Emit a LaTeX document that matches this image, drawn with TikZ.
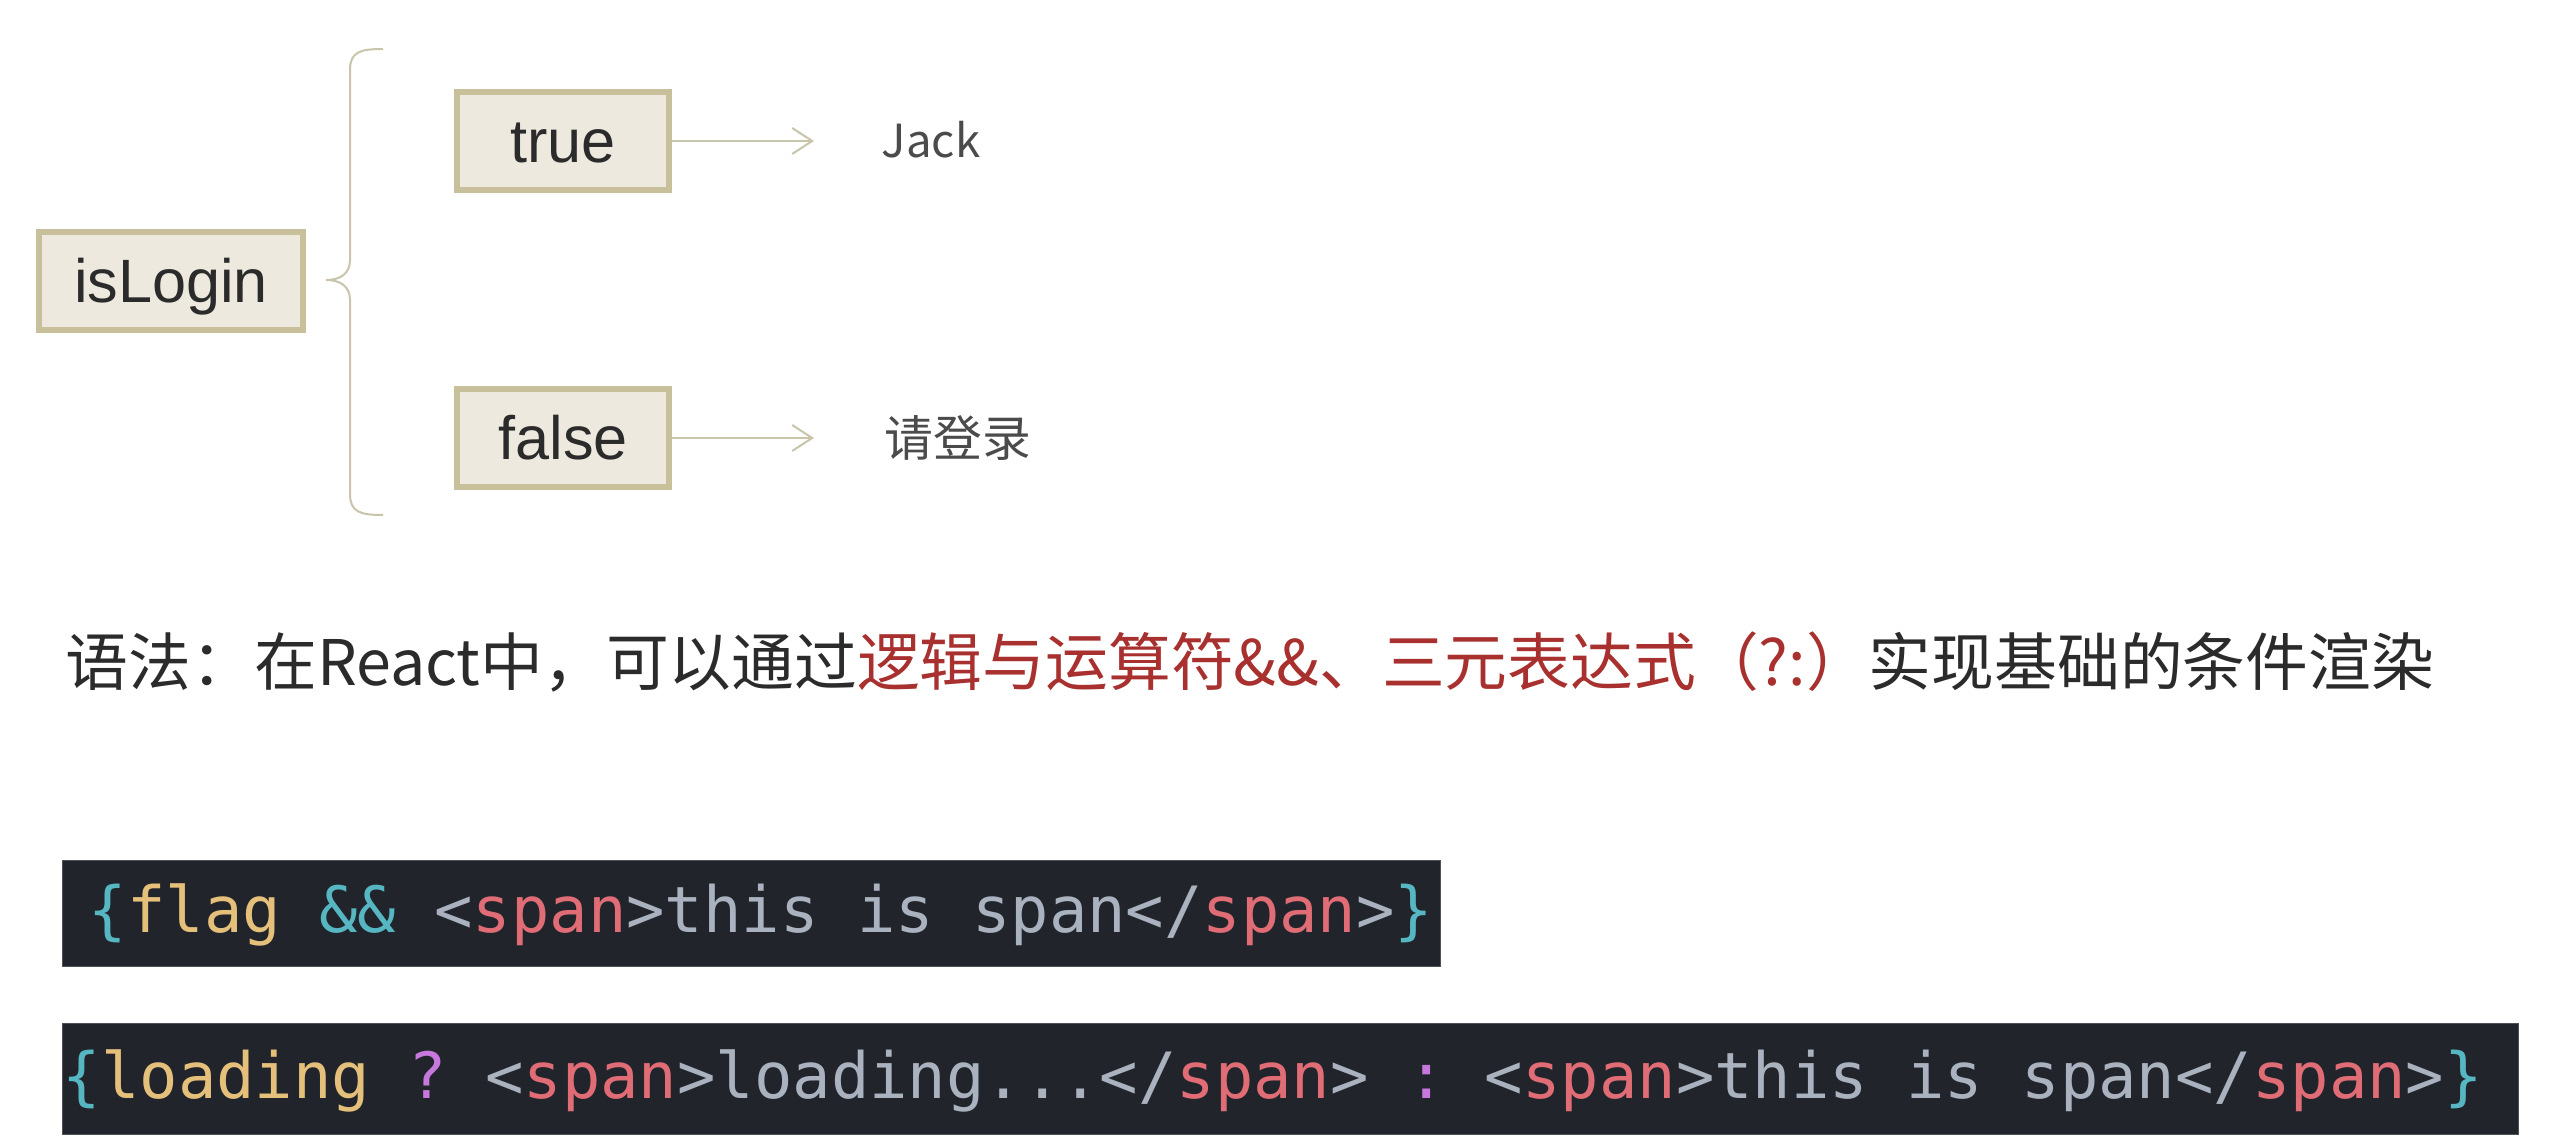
\documentclass[tikz,border=0pt]{standalone}
\usepackage{fontspec}
\setmainfont{Liberation Sans}
\newfontfamily\cjk{Noto Sans CJK SC}
\setmonofont{DejaVu Sans Mono}
\usetikzlibrary{arrows.meta}
\definecolor{boxfill}{HTML}{EDE9DE}
\definecolor{boxline}{HTML}{C8C09B}
\definecolor{connc}{HTML}{C9C5AA}
\definecolor{txtc}{HTML}{2B2B2B}
\definecolor{redt}{HTML}{A8302E}
\definecolor{codebgc}{HTML}{21252B}
\definecolor{ccyan}{HTML}{56B6C2}
\definecolor{cyel}{HTML}{E5C07B}
\definecolor{cred}{HTML}{E06C75}
\definecolor{cgray}{HTML}{ABB2BF}
\definecolor{cpur}{HTML}{C678DD}
\begin{document}
\begin{tikzpicture}[x=0.25pt,y=-0.25pt,
  kbox/.style={draw=boxline, line width=1.3pt, fill=boxfill, inner sep=0pt,
     minimum height=24.5pt, text height=10.95pt, text depth=0pt, text=txtc,
     font=\fontsize{15.3pt}{18pt}\selectfont},
  conn/.style={draw=connc, line width=0.5pt},
  arr/.style={conn, -{Straight Barb[length=5pt,width=6.5pt,line width=0.5pt]}},
  res/.style={anchor=west, inner sep=0pt, text=txtc!85, font=\cjk\fontsize{12.2pt}{14pt}\selectfont},
  codebg/.style={fill=codebgc, draw=codebgc!80!white, line width=0.3pt, inner sep=0pt, anchor=north west},
  codetxt/.style={anchor=base west, inner sep=0pt, text=cgray, font=\ttfamily\fontsize{15.95pt}{18pt}\selectfont}
]
\useasboundingbox[fill=white] (0,0) rectangle (2554,1142);

% boxes
\node[kbox, minimum width=66pt] (login) at (171,281) {isLogin};
\node[kbox, minimum width=53pt] (t) at (563,141) {true};
\node[kbox, minimum width=53pt] (f) at (563,438) {false};

% results
\node[res, font=\cjk\fontsize{11.4pt}{14pt}\selectfont] (jack) at (881,140) {Jack};
\node[res] (deng) at (884,438) {请登录};

% arrows
\coordinate (ta) at (814,141);
\coordinate (fa) at (814,438);
\draw[arr] (t.east) -- (ta);
\draw[arr] (f.east) -- (fa);

% brace
\coordinate (tip) at (326,280);
\draw[conn] (383,49) .. controls (360,49) and (350,52) .. (350,70) -- (350,260)
   .. controls (350,274) and (340,280) .. (tip)
   .. controls (340,280) and (350,286) .. (350,300) -- (350,494)
   .. controls (350,512) and (360,515) .. (383,515);

% syntax line
\node[anchor=base west, inner sep=0pt, text=txtc, font=\cjk\fontsize{15.7pt}{18pt}\selectfont] (syn) at (65,686)
  {语法：在React中，可以通过\textcolor{redt}{逻辑与运算符\&\&、三元表达式（?:）}实现基础的条件渲染};

% code boxes
\node[codebg, minimum width=344.5pt, minimum height=26.5pt] (cb1) at (62,860) {};
\node[codebg, minimum width=614pt, minimum height=27.75pt] (cb2) at (62,1023) {};

\node[codetxt] (c1) at (88,932)
  {\textcolor{ccyan}{\{}\textcolor{cyel}{flag} \textcolor{ccyan}{\&\&} <\textcolor{cred}{span}>this is span</\textcolor{cred}{span}>\textcolor{ccyan}{\}}};
\node[codetxt] (c2) at (62,1098)
  {\textcolor{ccyan}{\{}\textcolor{cyel}{loading} \textcolor{cpur}{?} <\textcolor{cred}{span}>loading...</\textcolor{cred}{span}> \textcolor{cpur}{:} <\textcolor{cred}{span}>this is span</\textcolor{cred}{span}>\textcolor{ccyan}{\}}};
\end{tikzpicture}
\end{document}
